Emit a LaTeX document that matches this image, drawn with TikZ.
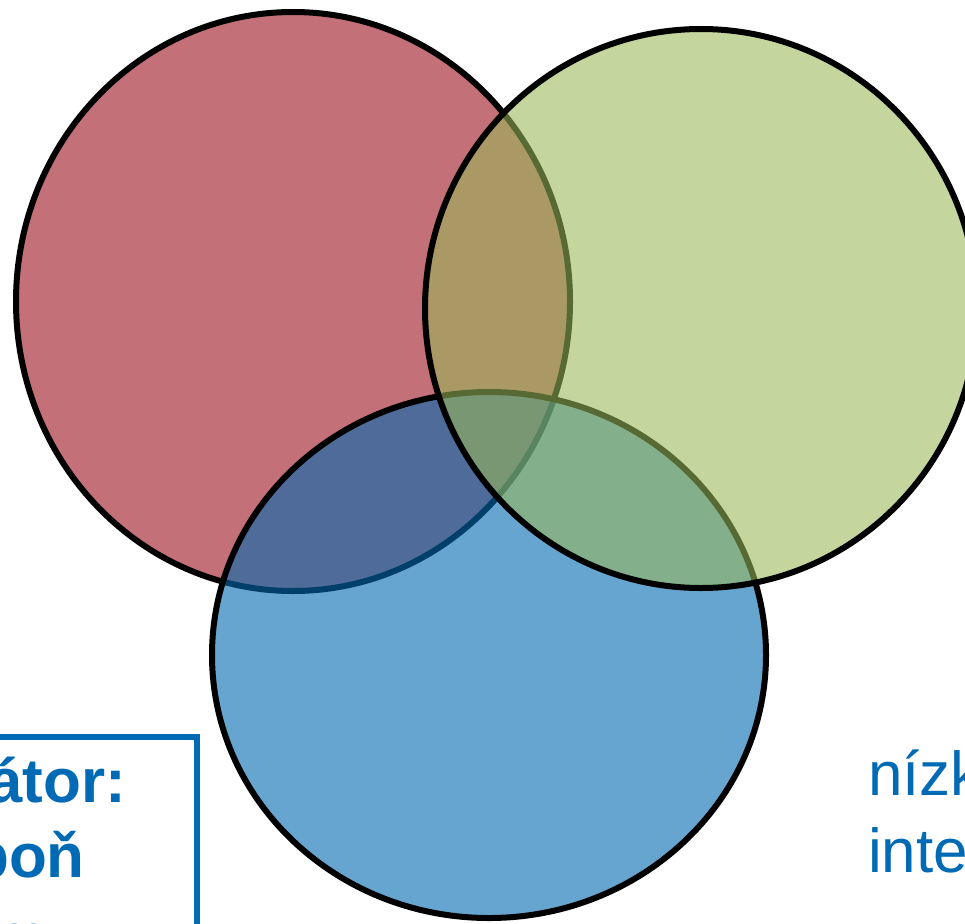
\documentclass[tikz,border=0pt]{standalone}
\usepackage{fontspec}
\setmainfont{Liberation Sans}
\usepackage{tikz}
\usetikzlibrary{positioning}
\definecolor{setred}{RGB}{196,112,120}
\definecolor{setgreen}{RGB}{153,184,88}
\definecolor{setblue}{RGB}{0,105,177}
\definecolor{noteblue}{RGB}{0,106,180}

\begin{document}
\begin{tikzpicture}[x=1pt,y=-1pt,
set/.style={draw=black,line width=6pt},
note/.style={text=noteblue,inner sep=0pt,anchor=base west,font=\fontsize{62}{75}\selectfont}]
\useasboundingbox (0,0) rectangle (965,923);
\clip (0,0) rectangle (965,923);
% the three sets
\draw [set,fill=setred] (293,301.5) ellipse [x radius=277pt,y radius=289.5pt];
\draw [set,fill=setblue,fill opacity=.6] (489,655) ellipse [x radius=277pt,y radius=263pt];
\draw [set,fill=setgreen,fill opacity=.58] (701,308.5) ellipse [x radius=276pt,y radius=279.5pt];
% box at the left
\draw [noteblue,line width=6pt] (-20,737) rectangle (197,960);
\node (ator) [note,font=\fontsize{62}{75}\selectfont\bfseries] at (-12,802) {átor:};
\node (bon) [note,font=\fontsize{62}{75}\selectfont\bfseries] at (-29,877) {boň};
\node (m) [note,font=\fontsize{62}{75}\selectfont\bfseries] at (-8,957) {m};
% text at the right
\node (nizk) [note] at (868,795) {nízk};
\node (inte) [note] at (868,872) {inte};
\end{tikzpicture}
\end{document}
